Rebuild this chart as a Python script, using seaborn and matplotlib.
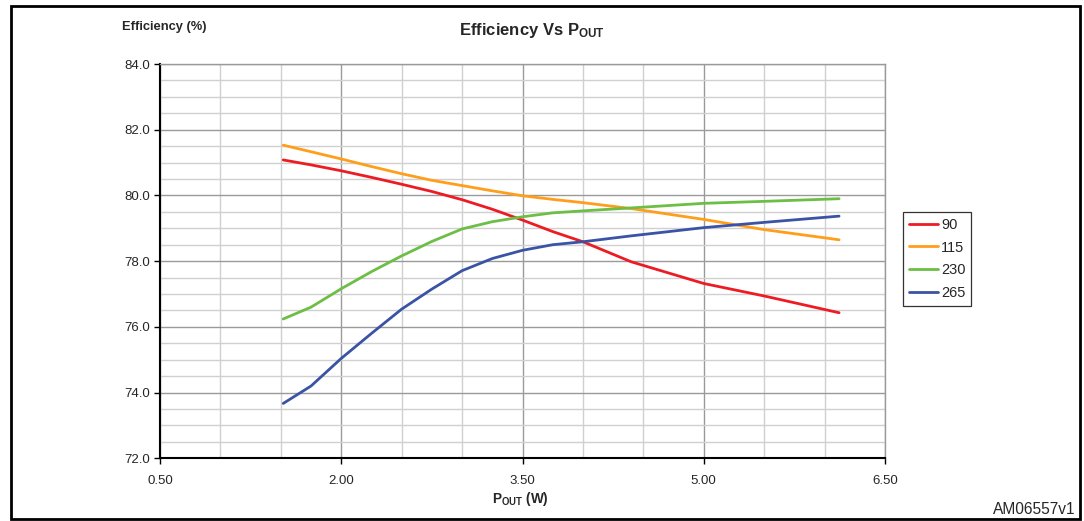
import matplotlib
matplotlib.use("Agg")
import matplotlib.pyplot as plt
import seaborn as sns
import pandas as pd
from matplotlib.patches import Rectangle
from matplotlib.ticker import MultipleLocator, FixedLocator, FormatStrFormatter

# ---- data ----
pout = [1.52, 1.75, 2.0, 2.25, 2.5, 2.75, 3.0, 3.25, 3.5, 3.75, 4.0, 4.4, 5.0, 5.5, 6.12]
eff_90 = [81.08, 80.93, 80.75, 80.55, 80.34, 80.12, 79.87, 79.58, 79.25, 78.90, 78.59, 77.98, 77.32, 76.94, 76.43]
eff_115 = [81.53, 81.33, 81.11, 80.88, 80.66, 80.46, 80.30, 80.14, 79.99, 79.88, 79.78, 79.60, 79.27, 78.96, 78.65]
eff_230 = [76.24, 76.60, 77.16, 77.68, 78.16, 78.60, 78.98, 79.20, 79.35, 79.47, 79.53, 79.62, 79.76, 79.82, 79.90]
eff_265 = [73.67, 74.20, 75.04, 75.80, 76.54, 77.15, 77.71, 78.08, 78.33, 78.50, 78.59, 78.77, 79.02, 79.18, 79.37]
series_names = ["90", "115", "230", "265"]
colors = ["#ED1C24", "#FF9E1B", "#6CBE45", "#3A53A4"]
x_ticks = [0.5, 2.0, 3.5, 5.0, 6.5]

rows = []
for name, vals in zip(series_names, [eff_90, eff_115, eff_230, eff_265]):
    for x, y in zip(pout, vals):
        rows.append({"Pout": x, "Eff": y, "Vin": name})
df = pd.DataFrame(rows)

sns.set_theme(style="white")
plt.rcParams["font.family"] = ["Liberation Sans", "DejaVu Sans"]
plt.rcParams["mathtext.fontset"] = "custom"
plt.rcParams["mathtext.rm"] = "Liberation Sans"
plt.rcParams["mathtext.bf"] = "Liberation Sans:bold"

W, H = 1084, 521
fig = plt.figure(figsize=(W / 100, H / 100), dpi=100)
ax = fig.add_axes([160 / W, 1 - 458.3 / H, (885 - 160) / W, (458.3 - 64) / H])

sns.lineplot(data=df, x="Pout", y="Eff", hue="Vin", palette=colors,
             hue_order=series_names, linewidth=2.0, ax=ax, legend=True, sort=False)

ax.set_xlim(0.5, 6.5)
ax.set_ylim(72.0, 84.0)
ax.xaxis.set_major_locator(FixedLocator(x_ticks))
ax.xaxis.set_minor_locator(MultipleLocator(0.5))
ax.yaxis.set_major_locator(MultipleLocator(2.0))
ax.yaxis.set_minor_locator(MultipleLocator(0.5))
ax.xaxis.set_major_formatter(FormatStrFormatter("%.2f"))
ax.yaxis.set_major_formatter(FormatStrFormatter("%.1f"))
ax.grid(which="major", color="#9a9a9a", linewidth=1.0)
ax.grid(which="minor", color="#d0d0d0", linewidth=1.0)
ax.set_axisbelow(True)
ax.set_xlabel("")
ax.set_ylabel("")
ax.tick_params(axis="both", which="major", direction="out", length=4, width=1,
               color="black", labelsize=9.5, pad=3, left=True, bottom=True)
ax.tick_params(axis="x", which="major", pad=8)
ax.tick_params(axis="both", which="minor", length=0)
for side in ["left", "bottom"]:
    ax.spines[side].set_color("black")
    ax.spines[side].set_linewidth(1.5)
for side in ["top", "right"]:
    ax.spines[side].set_color("#9a9a9a")
    ax.spines[side].set_linewidth(1.0)

leg = ax.legend(loc="upper left", bbox_to_anchor=(903 / W, 1 - 212 / H),
                bbox_transform=fig.transFigure, frameon=True, fancybox=False,
                fontsize=10.5, handlelength=2.0, handletextpad=0.2,
                borderpad=0.4, labelspacing=0.6, borderaxespad=0)
leg.get_frame().set_edgecolor("black")
leg.get_frame().set_linewidth(0.9)
for line in leg.get_lines():
    line.set_linewidth(2.0)

fig.text(122 / W, 1 - 27 / H, "Efficiency (%)", fontsize=9.3, fontweight="bold",
         ha="left", va="center")
fig.text(532 / W, 1 - 30 / H, r"Efficiency Vs $\mathbf{P_{OUT}}$", fontsize=12,
         fontweight="bold", ha="center", va="center")
fig.text(520 / W, 1 - 499 / H, r"$\mathbf{P_{OUT}}$ (W)", fontsize=9.8,
         fontweight="bold", ha="center", va="center")
fig.text(1075 / W, 1 - 509 / H, "AM06557v1", fontsize=11.2, ha="right", va="center")

fig.patches.append(Rectangle((10.5 / W, 1 - 519 / H), (1080 - 10.5) / W, (519 - 6) / H,
                             transform=fig.transFigure, fill=False,
                             edgecolor="black", linewidth=2.0))

fig.savefig("out.png", dpi=100)
